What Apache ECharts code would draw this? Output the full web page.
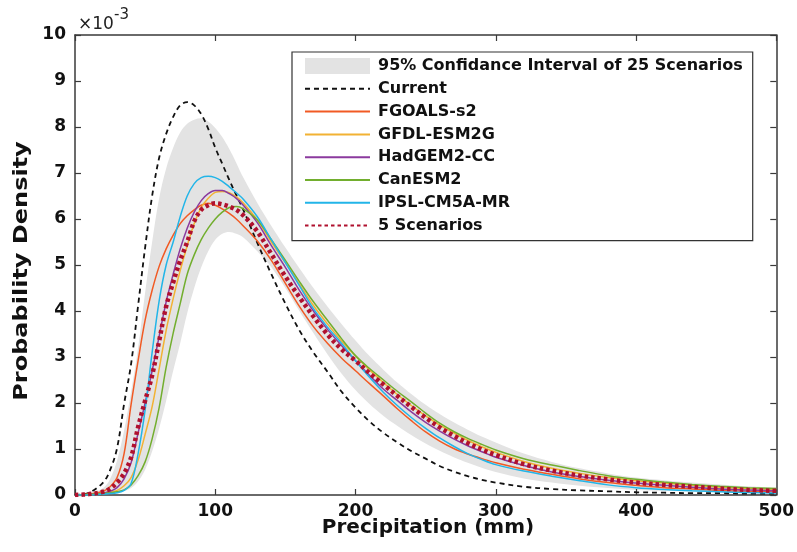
<!DOCTYPE html>
<html>
<head>
<meta charset="utf-8">
<script src="https://cdn.jsdelivr.net/npm/echarts@6/dist/echarts.min.js"></script>
<style>
html,body{margin:0;padding:0;background:#fff;overflow:hidden;}
#chart{width:797px;height:552px;}
</style>
</head>
<body>
<div id="chart"></div>
<script>
// Precipitation (mm)
const xs = [0,10,20,25,30,35,40,45,50,55,60,65,70,75,80,85,90,95,100,105,110,115,120,130,140,150,160,170,180,190,200,210,220,230,240,250,260,270,280,290,300,320,340,360,380,400,420,440,460,480,500];
// Probability density (x 10^-3)
const current = [0,0.05,0.27,0.54,1.02,1.98,2.85,4.12,5.38,6.5,7.33,7.85,8.22,8.47,8.54,8.47,8.28,7.96,7.55,7.2,6.85,6.52,6.2,5.48,4.8,4.16,3.58,3.1,2.68,2.25,1.9,1.6,1.35,1.14,0.95,0.79,0.63,0.51,0.41,0.33,0.27,0.18,0.13,0.1,0.08,0.06,0.05,0.04,0.04,0.03,0.03];
const fgoals = [0,0.02,0.08,0.18,0.38,0.9,1.97,2.92,3.8,4.45,4.97,5.35,5.65,5.9,6.07,6.2,6.3,6.34,6.3,6.22,6.12,6.0,5.85,5.52,5.1,4.6,4.1,3.66,3.3,2.98,2.7,2.42,2.15,1.87,1.61,1.37,1.17,1.01,0.89,0.79,0.7,0.56,0.45,0.35,0.27,0.21,0.16,0.13,0.1,0.08,0.07];
const gfdl = [0,0.01,0.03,0.06,0.1,0.2,0.38,0.76,1.32,1.92,2.74,3.58,4.27,4.88,5.42,5.9,6.25,6.45,6.58,6.6,6.57,6.48,6.35,5.98,5.5,5.05,4.58,4.12,3.72,3.35,3.02,2.72,2.44,2.18,1.94,1.72,1.52,1.35,1.19,1.05,0.93,0.73,0.58,0.47,0.38,0.31,0.26,0.21,0.17,0.14,0.12];
const hadgem = [0,0.01,0.04,0.08,0.16,0.35,0.7,1.35,2.0,2.7,3.45,4.2,4.8,5.35,5.8,6.15,6.4,6.55,6.62,6.62,6.55,6.45,6.3,5.92,5.42,4.95,4.45,4.0,3.6,3.25,2.92,2.6,2.3,2.05,1.8,1.58,1.39,1.22,1.07,0.94,0.82,0.64,0.5,0.4,0.32,0.26,0.21,0.17,0.13,0.11,0.09];
const canesm = [0,0.01,0.03,0.05,0.07,0.11,0.22,0.42,0.72,1.22,1.9,2.78,3.52,4.16,4.8,5.22,5.55,5.8,6.0,6.15,6.25,6.27,6.22,5.98,5.55,5.1,4.64,4.2,3.8,3.4,3.03,2.75,2.5,2.25,2.02,1.78,1.56,1.38,1.23,1.1,0.98,0.79,0.65,0.53,0.42,0.34,0.28,0.23,0.19,0.16,0.14];
const ipsl = [0,0,0.02,0.03,0.05,0.1,0.25,0.9,1.85,3.1,4.22,5.0,5.5,6.05,6.5,6.77,6.9,6.93,6.9,6.82,6.7,6.57,6.43,6.05,5.55,5.05,4.55,4.05,3.65,3.3,2.92,2.56,2.23,1.94,1.68,1.45,1.24,1.06,0.9,0.77,0.66,0.52,0.41,0.31,0.22,0.16,0.12,0.09,0.07,0.055,0.045];
const five = [0,0.02,0.07,0.14,0.27,0.47,0.82,1.48,2.05,2.6,3.35,4.1,4.62,5.1,5.5,5.95,6.2,6.3,6.34,6.32,6.27,6.2,6.08,5.73,5.24,4.75,4.3,3.88,3.49,3.17,2.92,2.65,2.4,2.15,1.91,1.68,1.47,1.29,1.13,0.99,0.87,0.67,0.53,0.42,0.34,0.27,0.22,0.18,0.14,0.11,0.09];
const bandLow = [0,0.01,0.02,0.03,0.05,0.08,0.15,0.3,0.55,0.95,1.45,2.05,2.7,3.3,3.95,4.5,4.95,5.3,5.55,5.68,5.72,5.68,5.6,5.3,4.95,4.5,4.0,3.52,3.06,2.64,2.28,1.98,1.72,1.5,1.3,1.12,0.96,0.82,0.7,0.59,0.5,0.36,0.27,0.2,0.15,0.11,0.09,0.07,0.06,0.05,0.04];
const bandHigh = [0,0.03,0.15,0.35,0.75,1.4,2.25,3.2,4.4,5.5,6.45,7.1,7.55,7.88,8.07,8.16,8.19,8.12,7.98,7.78,7.52,7.22,6.9,6.35,5.85,5.38,4.93,4.5,4.1,3.72,3.36,3.02,2.72,2.44,2.19,1.96,1.76,1.58,1.42,1.27,1.14,0.9,0.72,0.58,0.47,0.38,0.32,0.27,0.23,0.19,0.16];
const names = ['95% Confidance Interval of 25 Scenarios','Current','FGOALS-s2','GFDL-ESM2G','HadGEM2-CC','CanESM2','IPSL-CM5A-MR','5 Scenarios'];

const pairs = arr => xs.map((x, i) => [x, arr[i]]);
const axisColor = '#3a3a3a';
const SM = 0.35;
const FONT = 'DejaVu Sans, Liberation Sans, Arial';

function lineSeries(name, arr, color, width, type) {
  return {
    name: name, type: 'line', data: pairs(arr), smooth: SM, symbol: 'none', showSymbol: false,
    itemStyle: {color: color},
    lineStyle: {color: color, width: width, type: type || 'solid', cap: 'butt'},
    emphasis: {disabled: true}, silent: true, z: 3
  };
}

const chart = echarts.init(document.getElementById('chart'), null, {renderer: 'canvas', width: 797, height: 552});
const axisCommon = {
  axisLine: {show: true, onZero: false, lineStyle: {color: axisColor, width: 1.5}},
  axisTick: {show: true, inside: true, length: 6, lineStyle: {color: axisColor, width: 1.2}},
  splitLine: {show: false}
};
chart.setOption({
  animation: false,
  backgroundColor: '#fff',
  grid: {left: 75, right: 16, top: 35, bottom: 57, containLabel: false},
  xAxis: [Object.assign({
    type: 'value', min: 0, max: 500, interval: 100, position: 'bottom',
    axisLabel: {fontFamily: FONT, fontWeight: 'bold', fontSize: 17, color: '#111', margin: 8}
  }, axisCommon), Object.assign({
    type: 'value', min: 0, max: 500, interval: 100, position: 'top',
    axisLabel: {show: false}
  }, axisCommon)],
  yAxis: [Object.assign({
    type: 'value', min: 0, max: 10, interval: 1, position: 'left',
    axisLabel: {fontFamily: FONT, fontWeight: 'bold', fontSize: 17, color: '#111', margin: 9}
  }, axisCommon), Object.assign({
    type: 'value', min: 0, max: 10, interval: 1, position: 'right',
    axisLabel: {show: false}
  }, axisCommon)],
  legend: {
    show: true, orient: 'vertical', left: 292, top: 52,
    padding: [6, 10, 7, 12],
    backgroundColor: '#fff', borderColor: '#333', borderWidth: 1.2,
    itemWidth: 65, itemHeight: 16, itemGap: 6.8,
    selectedMode: false,
    itemStyle: {opacity: 0},
    textStyle: {fontFamily: FONT, fontWeight: 'bold', fontSize: 16, color: '#111', padding: [0, 0, 0, 3]},
    data: [
      {name: names[0], icon: 'rect', itemStyle: {color: '#e3e3e3', opacity: 1}},
      names[1], names[2], names[3], names[4], names[5], names[6], names[7]
    ]
  },
  graphic: [
    {type: 'text', left: 78, top: 16, style: {text: '\u00d710', font: '17px ' + FONT, fill: '#222'}},
    {type: 'text', left: 114, top: 8, style: {text: '-3', font: '15px ' + FONT, fill: '#222'}},
    {type: 'text', x: 428, y: 528, style: {text: 'Precipitation (mm)', font: 'bold 20px ' + FONT, fill: '#111', align: 'center', verticalAlign: 'middle'}},
    {type: 'text', x: 22, y: 271, rotation: Math.PI / 2, scaleX: 1.2,
     style: {text: 'Probability Density', font: 'bold 20px ' + FONT, fill: '#111', align: 'center', verticalAlign: 'middle'}}
  ],
  series: [
    {
      name: names[0], type: 'line', data: pairs(bandHigh), smooth: SM, symbol: 'none',
      itemStyle: {color: '#e3e3e3'},
      lineStyle: {opacity: 0, width: 0}, areaStyle: {color: '#e3e3e3', opacity: 1}, silent: true, z: -2
    },
    {
      name: 'bandLow', type: 'line', data: pairs(bandLow), smooth: SM, symbol: 'none',
      itemStyle: {color: '#ffffff'},
      lineStyle: {opacity: 0, width: 0}, areaStyle: {color: '#ffffff', opacity: 1}, silent: true, z: -1
    },
    lineSeries(names[1], current, '#111111', 1.8, [5, 4]),
    lineSeries(names[2], fgoals, '#F15A24', 1.5),
    lineSeries(names[3], gfdl, '#F2B233', 1.5),
    lineSeries(names[4], hadgem, '#8B3A9E', 1.5),
    lineSeries(names[5], canesm, '#72AE2E', 1.5),
    lineSeries(names[6], ipsl, '#22B5E8', 1.5),
    lineSeries(names[7], five, '#B0112E', 4.5, [3.5, 3])
  ]
});
</script>
</body>
</html>
